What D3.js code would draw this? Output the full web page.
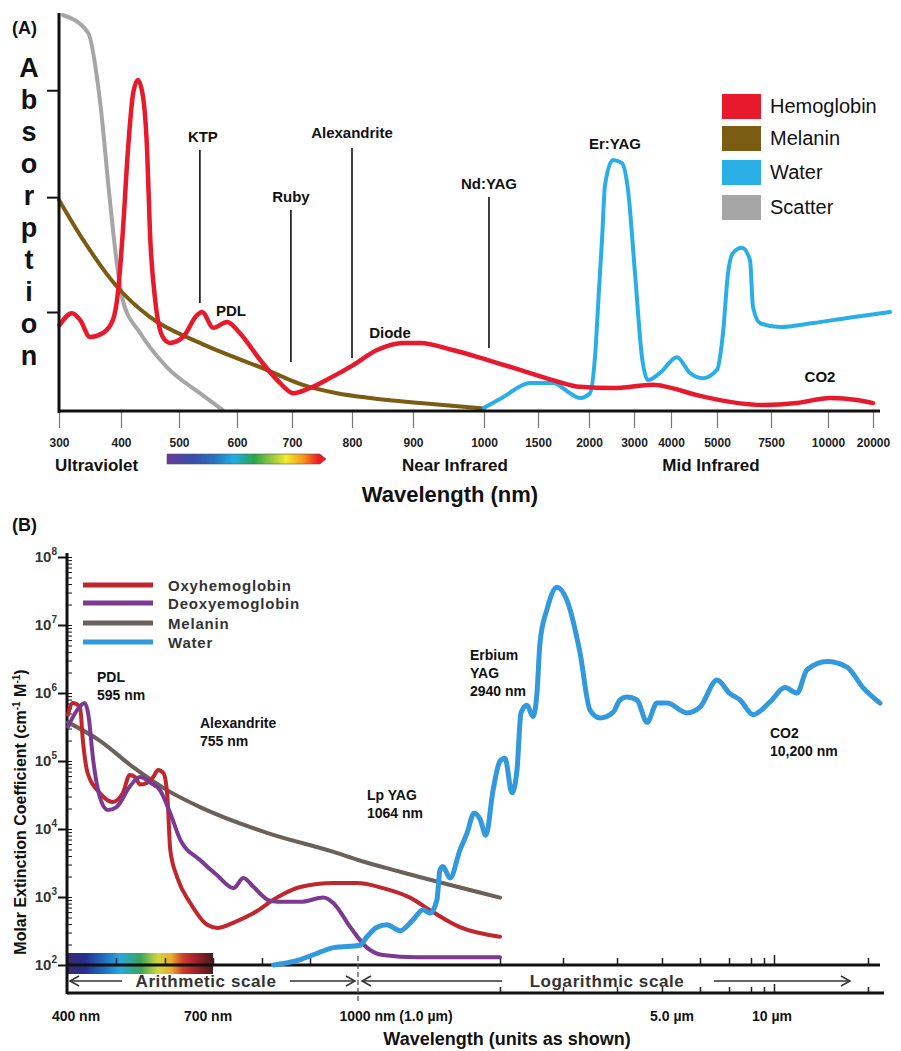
<!DOCTYPE html>
<html>
<head>
<meta charset="utf-8">
<script src="https://cdn.jsdelivr.net/npm/d3@7"></script>
<style>
body { margin: 0; background: #fff; }
text { font-family: "Liberation Sans", Arial, Helvetica, sans-serif; }
</style>
</head>
<body>
<div id="chart"></div>
<script>
// ---------------- Panel A data (relative absorption 0-100, wavelength nm) ----------------
var tickWavesA = [300, 400, 500, 600, 700, 800, 900, 1000, 1500, 2000, 3000, 4000, 5000, 7500, 10000, 20000];
var yTickValsA = [25, 54, 81];

var hemoglobinA = [[301,21.7],[321,24.7],[334,23.0],[350,18.7],[371,19.7],[387,23.0],[395,29.8],[403,44.9],
  [412,65.9],[421,80.3],[429,83.6],[438,79.3],[445,65.9],[450,44.9],[459,28.0],[472,18.7],[484,17.2],
  [507,18.7],[531,24.2],[540,25.0],[559,21.0],[583,22.5],[605,19.7],[642,12.9],[678,7.1],[702,4.5],
  [730,5.8],[763,8.3],[802,11.6],[841,15.4],[884,17.2],[910,17.2],[956,15.4],[1028,12.9],[1333,10.4],
  [1647,7.8],[1912,6.1],[2533,5.8],[3513,6.6],[3892,6.1],[4565,4.0],[5602,2.3],[7130,1.5],[8641,2.0],
  [10444,3.3],[16444,2.8],[20000,2.0]];
var melaninA = [[300,53.3],[339,43.2],[394,31.3],[450,23.7],[536,17.2],[654,10.4],[718,6.6],[775,4.5],
  [830,3.3],[910,2.0],[1000,0.6]];
var waterA = [[1000,0.8],[1176,3.5],[1426,7.1],[1647,7.1],[1814,4.5],[1912,3.3],[2022,4.5],[2133,13.6],
  [2222,30.6],[2289,43.2],[2356,57.1],[2533,63.4],[2733,62.6],[2867,55.8],[3027,34.8],[3216,13.6],
  [3378,7.8],[3703,9.6],[4130,13.6],[4412,9.6],[4695,8.3],[5000,10.4],[5278,19.7],[5509,34.8],
  [5741,39.9],[6157,41.2],[6528,38.1],[6667,26.3],[6991,22.2],[7895,21.2],[9344,22.2],[14222,23.5],[23778,25.0]];
var scatterA = [[306,100],[347,95.5],[366,78.5],[382,53.3],[394,36.4],[403,28],[433,19.7],[479,11.1],
  [536,4.5],[575,0.3]];
var namesA = ["Hemoglobin", "Melanin", "Water", "Scatter"];
var lasersA = ["KTP", "Ruby", "Alexandrite", "Nd:YAG"];
var laserWavesA = [536, 698, 800, 1046];

// ---------------- Panel B data (molar extinction, wavelength nm) ----------------
var tickWavesB = [400, 500, 600, 700, 800, 900, 1000, 2000, 3000, 4000, 5000, 6000, 7000, 8000, 9000, 10000, 20000];
var oxyB = [[400,4.8e5],[410,7.1e5],[425,6.2e5],[431,2.0e5],[441,6.6e4],[466,3.4e4],[493,2.5e4],[514,3.4e4],
  [528,6.2e4],[539,5.8e4],[549,4.5e4],[564,4.8e4],[576,5.8e4],[586,7.4e4],[597,6.6e4],[605,3.0e4],
  [611,4.9e3],[626,1.9e3],[653,810],[688,390],[709,350],[742,420],[783,580],[833,1000],[880,1400],
  [949,1600],[998,1600],[1176,1350],[1366,980],[1528,600],[1718,360],[2000,260]];
var deoxyB = [[400,3.2e5],[419,5.6e5],[435,7.1e5],[443,4.5e5],[452,1.1e5],[466,3.0e4],[483,1.9e4],[501,2.1e4],
  [528,4.2e4],[549,5.8e4],[570,4.8e4],[590,3.7e4],[611,1.7e4],[632,6.9e3],[673,3.5e3],[708,2.1e3],
  [742,1350],[762,1900],[783,1400],[812,910],[833,850],[880,850],[928,980],[949,810],[984,360],
  [1063,180],[1176,140],[1415,130],[1768,130],[2000,130]];
var melaninB = [[400,3.7e5],[466,2.0e5],[535,8.1e4],[605,3.7e4],[673,2.1e4],[812,8.7e3],[949,4.6e3],
  [1000,3.5e3],[1296,2.35e3],[2000,980]];
var waterB = [[824,100],[880,120],[916,150],[949,180],[1014,195],[1063,260],[1134,360],[1204,390],[1296,320],
  [1387,460],[1458,650],[1507,580],[1556,910],[1577,2500],[1598,2800],[1648,1900],[1718,4900],[1768,8700],
  [1817,1.7e4],[1859,1.4e4],[1901,8.1e3],[1951,3.7e4],[2000,1.0e5],[2079,1.1e5],[2190,3.4e4],[2270,7.4e4],
  [2333,5.1e5],[2429,6.6e5],[2524,4.5e5],[2587,1.0e6],[2635,5.5e6],[2746,1.7e7],[2905,3.6e7],[3074,2.3e7],
  [3315,3.9e6],[3500,5.6e5],[3685,4.3e5],[3926,5.2e5],[4067,7.9e5],[4222,8.7e5],[4444,7.9e5],[4667,3.7e5],
  [4889,7.1e5],[5132,7.1e5],[5658,5.1e5],[6000,6.2e5],[6586,1.55e6],[7045,9.8e5],[7500,7.9e5],[8154,4.8e5],
  [9600,7.4e5],[11170,1.2e6],[12447,1.0e6],[13511,2.2e6],[15638,2.9e6],[17766,2.4e6],[19468,1.2e6],[21277,7.1e5]];
var namesB = ["Oxyhemoglobin", "Deoxyemoglobin", "Melanin", "Water"];
var decadesB = [1e2, 1e3, 1e4, 1e5, 1e6, 1e7, 1e8];
var xLabelsB = ["400 nm", "700 nm", "1000 nm (1.0 \u00b5m)", "5.0 \u00b5m", "10 \u00b5m"];
var xLabelWavesB = [400, 700, 1000, 5000, 10000];

// ---------------- Layout ----------------
var svgWidth = 901, svgHeight = 1051;
var font = "'Liberation Sans', Arial, sans-serif";
var colorsA = ["#e8192c", "#7b5c13", "#29aee6", "#a6a6a6"];
var colorsB = ["#c0272d", "#7b3a8f", "#6b615a", "#3399dd"];

var svg = d3.select("#chart").append("svg")
  .attr("width", svgWidth)
  .attr("height", svgHeight)
  .style("background", "#fff");

var defs = svg.append("defs");
var gradA = defs.append("linearGradient").attr("id", "specA");
[["0", "#6a3a9c"], ["0.15", "#3a4aa6"], ["0.3", "#2a72bd"], ["0.42", "#1eaee4"], ["0.55", "#27a54a"],
 ["0.65", "#8cc63f"], ["0.75", "#f4eb2a"], ["0.86", "#f7941d"], ["0.95", "#ed1c24"], ["1", "#ed1c24"]]
  .forEach(function(s) { gradA.append("stop").attr("offset", s[0]).attr("stop-color", s[1]); });
var gradB = defs.append("linearGradient").attr("id", "specB");
[["0", "#3b2a6e"], ["0.12", "#252f8f"], ["0.25", "#1f6fc0"], ["0.36", "#2aa7df"], ["0.5", "#3aa45a"],
 ["0.62", "#cfd93a"], ["0.71", "#e8b030"], ["0.79", "#d0402a"], ["0.88", "#a3202a"], ["1", "#4a1a1c"]]
  .forEach(function(s) { gradB.append("stop").attr("offset", s[0]).attr("stop-color", s[1]); });

// ================= PANEL A =================
var xA = d3.scaleLinear()
  .domain(tickWavesA)
  .range([59, 121, 179, 237, 292, 352, 413, 484, 538, 589, 634, 671, 717, 771, 828, 873]);
var yA = d3.scaleLinear().domain([0, 100]).range([411, 15]);

var gA = svg.append("g");

// laser marker lines
var laserTops = [150, 210, 148, 197], laserBottoms = [303, 362, 358, 348];
var laserTextY = [142, 202, 138, 189];
lasersA.forEach(function(name, i) {
  var x = xA(laserWavesA[i]);
  gA.append("line")
    .attr("x1", x).attr("x2", x)
    .attr("y1", laserTops[i]).attr("y2", laserBottoms[i])
    .attr("stroke", "#111").attr("stroke-width", 1.6);
  gA.append("text")
    .attr("x", x + (i === 0 ? 3 : 0)).attr("y", laserTextY[i])
    .attr("text-anchor", "middle")
    .attr("font-size", 15).attr("font-weight", "bold").attr("fill", "#111")
    .text(name);
});
[["PDL", 231, 316], ["Diode", 390, 338], ["Er:YAG", 615, 149], ["CO2", 820, 382]].forEach(function(l) {
  gA.append("text")
    .attr("x", l[1]).attr("y", l[2])
    .attr("text-anchor", "middle")
    .attr("font-size", 15).attr("font-weight", "bold").attr("fill", "#111")
    .text(l[0]);
});

// curves
var lineA = d3.line()
  .x(function(d) { return xA(d[0]); })
  .y(function(d) { return yA(d[1]); })
  .curve(d3.curveMonotoneX);

var seriesA = [hemoglobinA, melaninA, waterA, scatterA];
[3, 1, 2, 0].forEach(function(i) {
  gA.append("path")
    .datum(seriesA[i])
    .attr("d", lineA)
    .attr("fill", "none")
    .attr("stroke", colorsA[i])
    .attr("stroke-width", i === 0 ? 4.5 : 4)
    .attr("stroke-linecap", "round")
    .attr("stroke-linejoin", "round");
});

// axes
var bottomAxisA = d3.axisBottom(xA)
  .tickValues(tickWavesA)
  .tickSize(17)
  .tickSizeOuter(0)
  .tickPadding(10)
  .tickFormat(d3.format("d"));
var axA = gA.append("g")
  .attr("transform", "translate(0,411)")
  .call(bottomAxisA);
axA.select(".domain").remove();
axA.selectAll(".tick line").attr("stroke", "#777").attr("stroke-width", 1.2);
axA.selectAll(".tick text")
  .attr("font-family", font).attr("font-size", 12).attr("font-weight", "bold").attr("fill", "#222");

var leftAxisA = d3.axisLeft(yA).tickValues(yTickValsA).tickSize(12).tickSizeOuter(0).tickFormat("");
var ayA = gA.append("g").attr("transform", "translate(59,0)").call(leftAxisA);
ayA.select(".domain").remove();
ayA.selectAll(".tick line").attr("stroke", "#111").attr("stroke-width", 2);

gA.append("line").attr("x1", 59).attr("x2", 59).attr("y1", 13).attr("y2", 413)
  .attr("stroke", "#111").attr("stroke-width", 3);
gA.append("line").attr("x1", 58).attr("x2", 880).attr("y1", 411).attr("y2", 411)
  .attr("stroke", "#111").attr("stroke-width", 3);

// axis label letters
"Absorption".split("").forEach(function(c, i) {
  gA.append("text")
    .attr("x", 29).attr("y", 77 + i * 32)
    .attr("text-anchor", "middle")
    .attr("font-size", 27).attr("font-weight", "bold").attr("fill", "#111")
    .text(c);
});
gA.append("text").attr("x", 12).attr("y", 34)
  .attr("font-size", 18).attr("font-weight", "bold").attr("fill", "#111").text("(A)");

// region labels
[["Ultraviolet", 55, "start"], ["Near Infrared", 455, "middle"], ["Mid Infrared", 711, "middle"]].forEach(function(l) {
  gA.append("text")
    .attr("x", l[1]).attr("y", 471)
    .attr("text-anchor", l[2])
    .attr("font-size", 17).attr("font-weight", "bold").attr("fill", "#111")
    .text(l[0]);
});
gA.append("text").attr("x", 450).attr("y", 502)
  .attr("text-anchor", "middle")
  .attr("font-size", 22).attr("font-weight", "bold").attr("fill", "#111")
  .text("Wavelength (nm)");

// visible spectrum arrow
gA.append("path")
  .attr("d", "M167,454 H320 L326,459 L320,464 H167 Z")
  .attr("fill", "url(#specA)")
  .attr("stroke", "#556").attr("stroke-width", 0.6);

// legend
namesA.forEach(function(n, i) {
  var top = [94, 126, 160, 195][i];
  gA.append("rect")
    .attr("x", 722).attr("y", top)
    .attr("width", 39).attr("height", 25)
    .attr("fill", colorsA[i]);
  gA.append("text")
    .attr("x", 770).attr("y", top + 19)
    .attr("font-size", 20).attr("fill", "#111")
    .text(n);
});

// ================= PANEL B =================
var xB = d3.scaleLinear()
  .domain(tickWavesB)
  .range([68, 116, 165, 213, 262, 310, 358, 500, 563, 617, 662, 700, 729, 751, 764, 774, 868]);
var yB = d3.scaleLog().domain([1e2, 1e8]).range([965, 557]);

var gB = svg.append("g");

gB.append("text").attr("x", 12).attr("y", 531)
  .attr("font-size", 18).attr("font-weight", "bold").attr("fill", "#111").text("(B)");

// spectrum bar
gB.append("rect")
  .attr("x", 68).attr("y", 953)
  .attr("width", xB(700) - 68).attr("height", 21)
  .attr("fill", "url(#specB)");

// y axis ticks
var minorB = [];
decadesB.slice(0, -1).forEach(function(d) {
  for (var k = 2; k <= 9; k++) minorB.push(d * k);
});
var ayB = gB.append("g").attr("transform", "translate(67,0)")
  .call(d3.axisLeft(yB).tickValues(decadesB).tickSize(9).tickFormat(""));
ayB.select(".domain").remove();
ayB.selectAll(".tick line").attr("stroke", "#111").attr("stroke-width", 2);
var ayB2 = gB.append("g").attr("transform", "translate(67,0)")
  .call(d3.axisRight(yB).tickValues(minorB.concat(decadesB)).tickSize(5).tickFormat(""));
ayB2.select(".domain").remove();
ayB2.selectAll(".tick line").attr("stroke", "#111").attr("stroke-width", 1);

decadesB.forEach(function(d) {
  var t = gB.append("text")
    .attr("x", 57).attr("y", yB(d) + 5)
    .attr("text-anchor", "end")
    .attr("font-size", 15).attr("font-weight", "bold").attr("fill", "#333");
  t.append("tspan").text("10");
  t.append("tspan").attr("font-size", 10).attr("dy", -7).text(Math.round(Math.log10(d)));
});

gB.append("text")
  .attr("transform", "translate(26,812) rotate(-90)")
  .attr("text-anchor", "middle")
  .attr("font-size", 16).attr("font-weight", "bold").attr("fill", "#111")
  .html("Molar Extinction Coefficient (cm<tspan dy='-6' font-size='10'>-1</tspan><tspan dy='6'> M</tspan><tspan dy='-6' font-size='10'>-1</tspan><tspan dy='6'>)</tspan>");

// x axis: two rails with ticks
var logTicksB = tickWavesB.filter(function(d) { return d > 1000; });
var arithTicksB = tickWavesB.filter(function(d) { return d > 400 && d < 1000; });
var upperAxis = gB.append("g").attr("transform", "translate(0,965)")
  .call(d3.axisTop(xB).tickValues(arithTicksB.concat(logTicksB)).tickSize(7).tickSizeOuter(0).tickFormat(""));
upperAxis.select(".domain").remove();
upperAxis.selectAll(".tick line").attr("stroke", "#222").attr("stroke-width", 1.5)
  .attr("y2", function(d) { return d === 10000 ? -10 : -7; });
var lowerAxis = gB.append("g").attr("transform", "translate(0,993)")
  .call(d3.axisTop(xB).tickValues(logTicksB).tickSize(6).tickSizeOuter(0).tickFormat(""));
lowerAxis.select(".domain").remove();
lowerAxis.selectAll(".tick line").attr("stroke", "#222").attr("stroke-width", 1.5)
  .attr("y2", function(d) { return d === 10000 ? -9 : -6; });

gB.append("line").attr("x1", 67).attr("x2", 880).attr("y1", 965).attr("y2", 965)
  .attr("stroke", "#111").attr("stroke-width", 3);
gB.append("line").attr("x1", 67).attr("x2", 884).attr("y1", 993).attr("y2", 993)
  .attr("stroke", "#111").attr("stroke-width", 3);
gB.append("line").attr("x1", 67).attr("x2", 67).attr("y1", 553).attr("y2", 994)
  .attr("stroke", "#111").attr("stroke-width", 3);
gB.append("line").attr("x1", xB(1000)).attr("x2", xB(1000)).attr("y1", 956).attr("y2", 1001)
  .attr("stroke", "#555").attr("stroke-width", 1.3).attr("stroke-dasharray", "5,3");

// scale arrows
function arrow(x1, x2, headAt) {
  gB.append("line").attr("x1", x1).attr("x2", x2).attr("y1", 981).attr("y2", 981)
    .attr("stroke", "#333").attr("stroke-width", 1.5);
  var dir = headAt === x1 ? 1 : -1;
  gB.append("path")
    .attr("d", "M" + (headAt + dir * 9) + ",976 L" + headAt + ",981 L" + (headAt + dir * 9) + ",986")
    .attr("fill", "none").attr("stroke", "#333").attr("stroke-width", 1.5);
}
arrow(70, 122, 70);
arrow(290, 355, 355);
arrow(362, 502, 362);
arrow(714, 850, 850);
[["Arithmetic scale", 206], ["Logarithmic scale", 607]].forEach(function(l) {
  gB.append("text").attr("x", l[1]).attr("y", 987)
    .attr("text-anchor", "middle")
    .attr("font-size", 17).attr("font-weight", "bold").attr("fill", "#333")
    .attr("letter-spacing", 0.6)
    .text(l[0]);
});

// x labels
var xLabelShift = [8, -5, 38, 10, -2];
xLabelsB.forEach(function(t, i) {
  gB.append("text")
    .attr("x", xB(xLabelWavesB[i]) + xLabelShift[i]).attr("y", 1021)
    .attr("text-anchor", "middle")
    .attr("font-size", 14).attr("font-weight", "bold").attr("fill", "#111")
    .text(t);
});
gB.append("text").attr("x", 507).attr("y", 1045)
  .attr("text-anchor", "middle")
  .attr("font-size", 18).attr("font-weight", "bold").attr("fill", "#111")
  .text("Wavelength (units as shown)");

// laser notes
[[["PDL", "595 nm"], 97, 682], [["Alexandrite", "755 nm"], 200, 728], [["Lp YAG", "1064 nm"], 367, 800],
 [["Erbium", "YAG", "2940 nm"], 470, 660], [["CO2", "10,200 nm"], 770, 738]].forEach(function(n) {
  n[0].forEach(function(line, j) {
    gB.append("text")
      .attr("x", n[1]).attr("y", n[2] + j * 18)
      .attr("font-size", 14).attr("font-weight", "bold").attr("fill", "#111")
      .text(line);
  });
});

// curves
var lineB = d3.line()
  .x(function(d) { return xB(d[0]); })
  .y(function(d) { return yB(d[1]); })
  .curve(d3.curveMonotoneX);
var seriesB = [oxyB, deoxyB, melaninB, waterB];
[2, 0, 1, 3].forEach(function(i) {
  gB.append("path")
    .datum(seriesB[i])
    .attr("d", lineB)
    .attr("fill", "none")
    .attr("stroke", colorsB[i])
    .attr("stroke-width", i === 3 ? 5 : 4)
    .attr("stroke-linecap", "round")
    .attr("stroke-linejoin", "round");
});

// legend B
namesB.forEach(function(n, i) {
  var y = [585, 603, 623, 642][i];
  gB.append("line")
    .attr("x1", 83).attr("x2", 153).attr("y1", y).attr("y2", y)
    .attr("stroke", colorsB[i]).attr("stroke-width", 5);
  gB.append("text")
    .attr("x", 168).attr("y", y + 6)
    .attr("font-size", 15).attr("font-weight", "bold").attr("fill", "#333")
    .attr("letter-spacing", 0.8)
    .text(n);
});
</script>
</body>
</html>
